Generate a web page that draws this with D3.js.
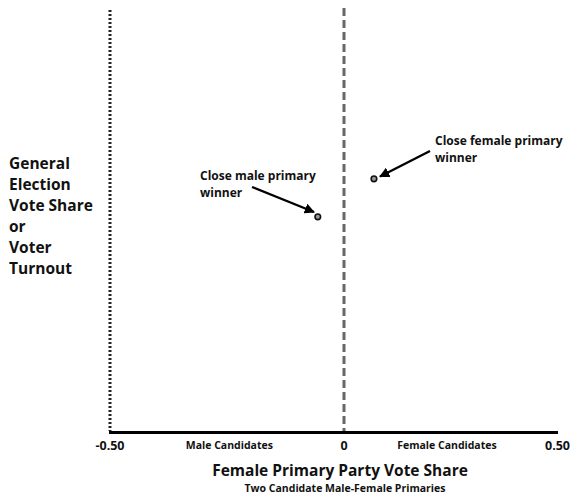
<!DOCTYPE html>
<html><head><meta charset="utf-8">
<script src="https://cdn.jsdelivr.net/npm/d3@7"></script>
<style>
html,body{margin:0;padding:0;background:#fff;}
text{font-family:"Open Sans",sans-serif;font-weight:bold;fill:#111;}
</style></head>
<body><svg id="c" width="571" height="496"></svg>
<script>
// Data
const pointLabels = ["Close male primary winner", "Close female primary winner"];
const pointX = [-0.056, 0.064];
const pointY = [0.51, 0.60];
const tickValues = [-0.5, 0, 0.5];
const tickLabels = ["-0.50", "0", "0.50"];
const sideLabels = ["Male Candidates", "Female Candidates"];
const sideValues = [-0.245, 0.22];
const yLabelLines = ["General", "Election", "Vote Share", "or", "Voter", "Turnout"];

const svg = d3.select("#c");
const x = d3.scaleLinear().domain([-0.5, 0.5]).range([110, 578]);
const y = d3.scaleLinear().domain([0, 1]).range([432, 10]);

// left dotted boundary
svg.append("line").attr("x1", x(-0.5)).attr("x2", x(-0.5)).attr("y1", 10).attr("y2", 431)
  .attr("stroke", "#222").attr("stroke-width", 3).attr("stroke-dasharray", "2,2");
// zero dashed line
svg.append("line").attr("x1", x(0)).attr("x2", x(0)).attr("y1", 8).attr("y2", 431)
  .attr("stroke", "#666").attr("stroke-width", 3).attr("stroke-dasharray", "8,4");
// x axis line
svg.append("line").attr("x1", 109).attr("x2", 558).attr("y1", 432.5).attr("y2", 432.5)
  .attr("stroke", "#000").attr("stroke-width", 3);

// tick labels
svg.selectAll("text.tick").data(tickValues).enter().append("text")
  .attr("class", "tick")
  .attr("x", (d, i) => i === 2 ? 570 : x(d))
  .attr("y", 450)
  .attr("text-anchor", (d, i) => i === 2 ? "end" : "middle")
  .style("font-size", "12.5px")
  .text((d, i) => tickLabels[i]);
svg.selectAll("text.side").data(sideValues).enter().append("text")
  .attr("class", "side").attr("x", d => x(d)).attr("y", 449)
  .attr("text-anchor", "middle").style("font-size", "10.5px")
  .text((d, i) => sideLabels[i]);

// axis titles
svg.append("text").attr("x", 340).attr("y", 476).attr("text-anchor", "middle")
  .style("font-size", "15.5px").text("Female Primary Party Vote Share");
svg.append("text").attr("x", 345).attr("y", 492).attr("text-anchor", "middle")
  .style("font-size", "10.5px").text("Two Candidate Male-Female Primaries");

// y label
const yl = svg.append("text").attr("x", 9).attr("y", 169).style("font-size", "15.5px");
yLabelLines.forEach((t, i) => yl.append("tspan").attr("x", 9).attr("dy", i === 0 ? 0 : 21).text(t));

// arrow marker
svg.append("defs").append("marker").attr("id", "ah").attr("viewBox", "0 0 10 10")
  .attr("refX", 9).attr("refY", 5).attr("markerWidth", 4.5).attr("markerHeight", 4.5)
  .attr("markerUnits", "strokeWidth").attr("orient", "auto")
  .append("path").attr("d", "M0,0L10,5L0,10z").attr("fill", "#000");

// annotations
const ann = [
  {lines: ["Close male primary", "winner"], tx: 200, ty: 180, from: [252, 187], to: [314, 212]},
  {lines: ["Close female primary", "winner"], tx: 435, ty: 145, from: [430, 151], to: [380, 176.5]}
];
ann.forEach(a => {
  const t = svg.append("text").attr("x", a.tx).attr("y", a.ty).style("font-size", "12px");
  a.lines.forEach((l, i) => t.append("tspan").attr("x", a.tx).attr("dy", i === 0 ? 0 : 17).text(l));
  svg.append("line").attr("x1", a.from[0]).attr("y1", a.from[1]).attr("x2", a.to[0]).attr("y2", a.to[1])
    .attr("stroke", "#000").attr("stroke-width", 2.3).attr("marker-end", "url(#ah)");
});

// points
svg.selectAll("circle.pt").data(pointX).enter().append("circle")
  .attr("class", "pt").attr("cx", d => x(d)).attr("cy", (d, i) => y(pointY[i]))
  .attr("r", 2.8).attr("fill", "#999").attr("stroke", "#111").attr("stroke-width", 1.6);
</script></body></html>
